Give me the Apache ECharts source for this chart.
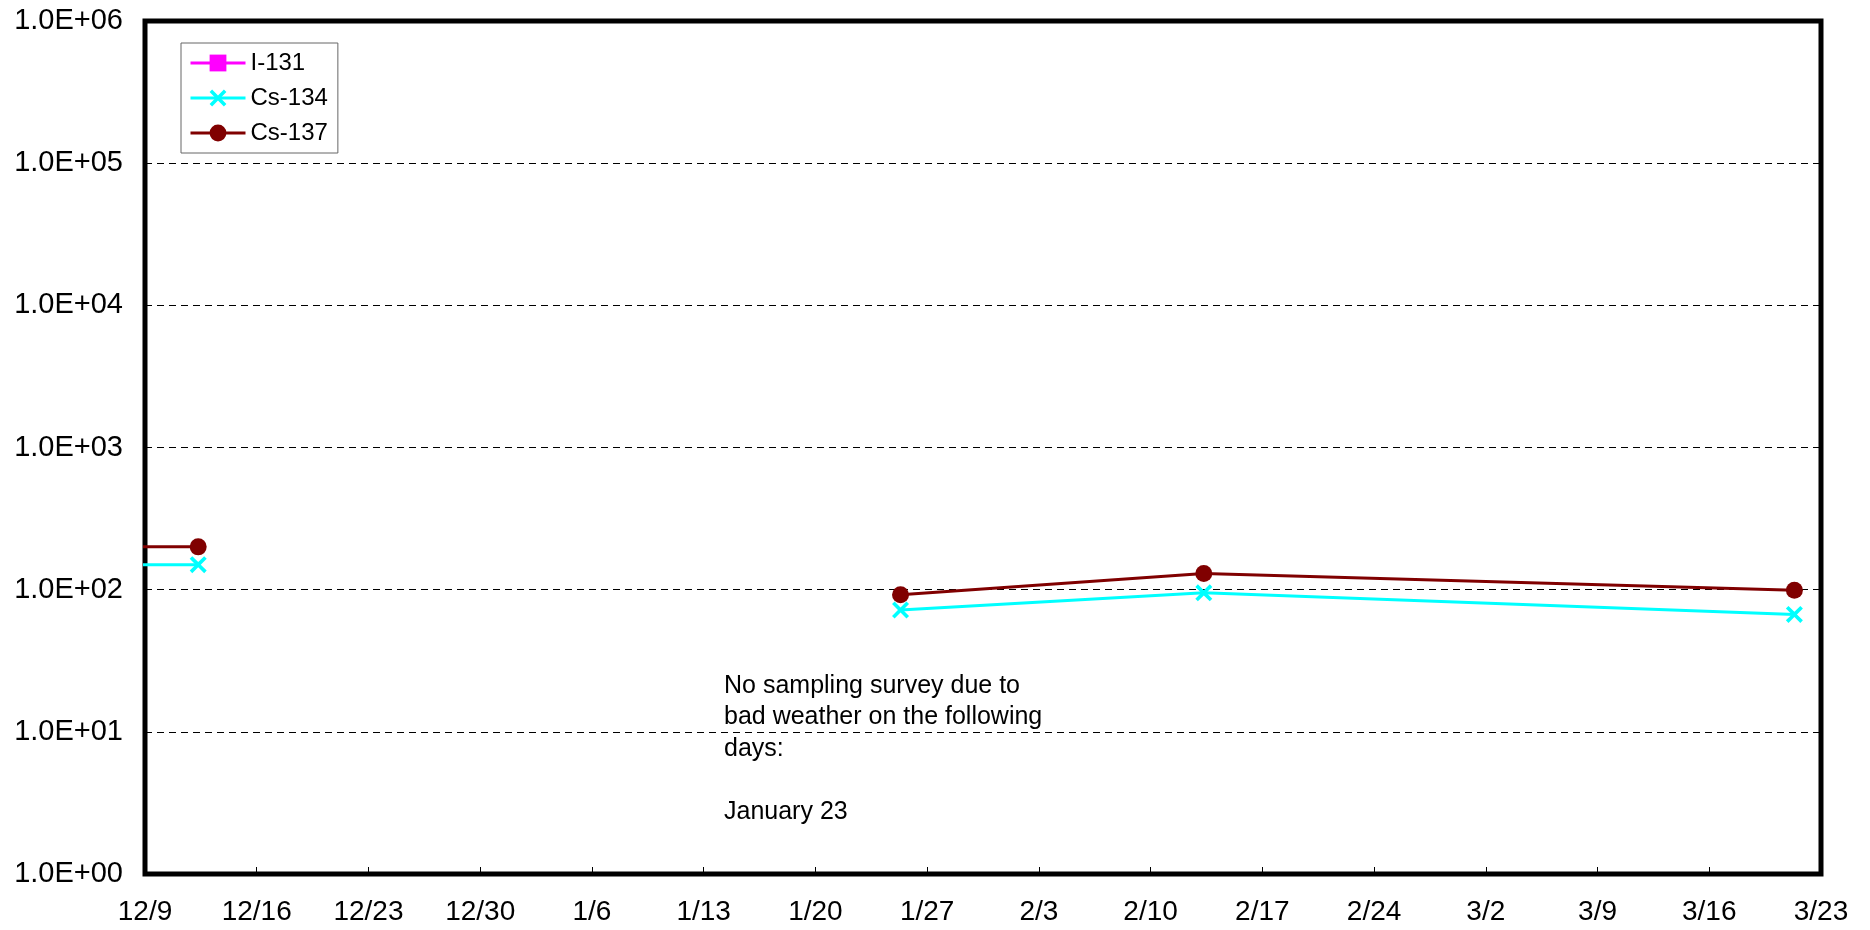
<!DOCTYPE html>
<html lang="en">
<head>
  <meta charset="UTF-8">
  <title>I-131 / Cs-134 / Cs-137</title>
  <script src="https://cdn.jsdelivr.net/npm/echarts@6/dist/echarts.min.js"></script>
  <style>
    html, body { margin: 0; padding: 0; background: #fff; }
    #chart { width: 1870px; height: 930px; }
  </style>
</head>
<body>
  <div id="chart"></div>

  <script>
    // axis start date and weekly tick labels
    const startDate = '2011-12-09T00:00';
    const xTickLabels = ['12/9', '12/16', '12/23', '12/30', '1/6', '1/13', '1/20', '1/27',
                         '2/3', '2/10', '2/17', '2/24', '3/2', '3/9', '3/16', '3/23'];
    const yTickLabels = ['1.0E+00', '1.0E+01', '1.0E+02', '1.0E+03', '1.0E+04', '1.0E+05', '1.0E+06'];

    // sampling dates (first one lies before the axis start, 1/23 = no sampling)
    const sampleDates = ['2011-11-28T08:00', '2011-12-12T08:00', '2012-01-23T08:00',
                         '2012-01-25T08:00', '2012-02-13T08:00', '2012-03-21T08:00'];
    const i131  = [null, null, null, null, null, null];
    const cs134 = [150, 150, null, 72, 95, 67];
    const cs137 = [200, 200, null, 92, 130, 99];

    const noteText = 'No sampling survey due to\nbad weather on the following\ndays:\n\nJanuary 23';

    const HOUR = 3600000;
    const t0 = new Date(startDate + 'Z').getTime();
    const dayOf = d => (new Date(d + 'Z').getTime() - t0) / (24 * HOUR);
    const pairs = vals => sampleDates.map((d, i) => [dayOf(d), vals[i]]);

    const font = "'Liberation Sans', Arial, sans-serif";
    const xMark = 'path://M0,1.5L1.5,0L5,3.5L8.5,0L10,1.5L6.5,5L10,8.5L8.5,10L5,6.5L1.5,10L0,8.5L3.5,5Z';

    const chart = echarts.init(document.getElementById('chart'));
    chart.setOption({
      animation: false,
      grid: {
        left: 145, right: 49, top: 21, bottom: 56,
        show: true, borderColor: '#000', borderWidth: 5
      },
      legend: {
        orient: 'vertical',
        left: 181, top: 43,
        padding: [8, 10, 8, 8],
        itemGap: 11,
        itemWidth: 55, itemHeight: 21,
        borderColor: '#666', borderWidth: 1,
        lineStyle: { width: 3 },
        textStyle: { fontFamily: font, fontSize: 24, lineHeight: 24, color: '#000' },
        data: ['I-131', 'Cs-134', 'Cs-137']
      },
      xAxis: {
        type: 'value',
        min: 0, max: (xTickLabels.length - 1) * 7, interval: 7,
        axisLine: { show: false },
        axisTick: { show: true, inside: true, length: 7, lineStyle: { color: '#000', width: 1 } },
        splitLine: { show: false },
        axisLabel: {
          margin: 24,
          fontFamily: font, fontSize: 28, color: '#000',
          formatter: v => xTickLabels[Math.round(v / 7)] || ''
        }
      },
      yAxis: {
        type: 'log', logBase: 10, min: 1, max: 1e6,
        axisLine: { show: false },
        axisTick: { show: true, inside: true, length: 5, lineStyle: { color: '#000', width: 1 } },
        splitLine: { show: true, lineStyle: { color: '#000', width: 1, type: [7, 5] } },
        axisLabel: {
          margin: 22,
          fontFamily: font, fontSize: 29, color: '#000',
          formatter: v => yTickLabels[Math.round(Math.log10(v))] || ''
        }
      },
      graphic: [{
        type: 'text', left: 724, top: 670,
        style: { text: noteText, font: '25px ' + font, fill: '#000', lineHeight: 31.5 }
      }],
      series: [
        {
          name: 'I-131', type: 'line', data: pairs(i131),
          symbol: 'rect', symbolSize: 17,
          lineStyle: { color: '#FF00FF', width: 3 },
          itemStyle: { color: '#FF00FF' }
        },
        {
          name: 'Cs-134', type: 'line', data: pairs(cs134),
          symbol: xMark, symbolSize: 17,
          lineStyle: { color: '#00FFFF', width: 3 },
          itemStyle: { color: '#00FFFF' },
          clip: true
        },
        {
          name: 'Cs-137', type: 'line', data: pairs(cs137),
          symbol: 'circle', symbolSize: 17,
          lineStyle: { color: '#800000', width: 3 },
          itemStyle: { color: '#800000' },
          clip: true
        }
      ]
    });
  </script>
</body>
</html>
